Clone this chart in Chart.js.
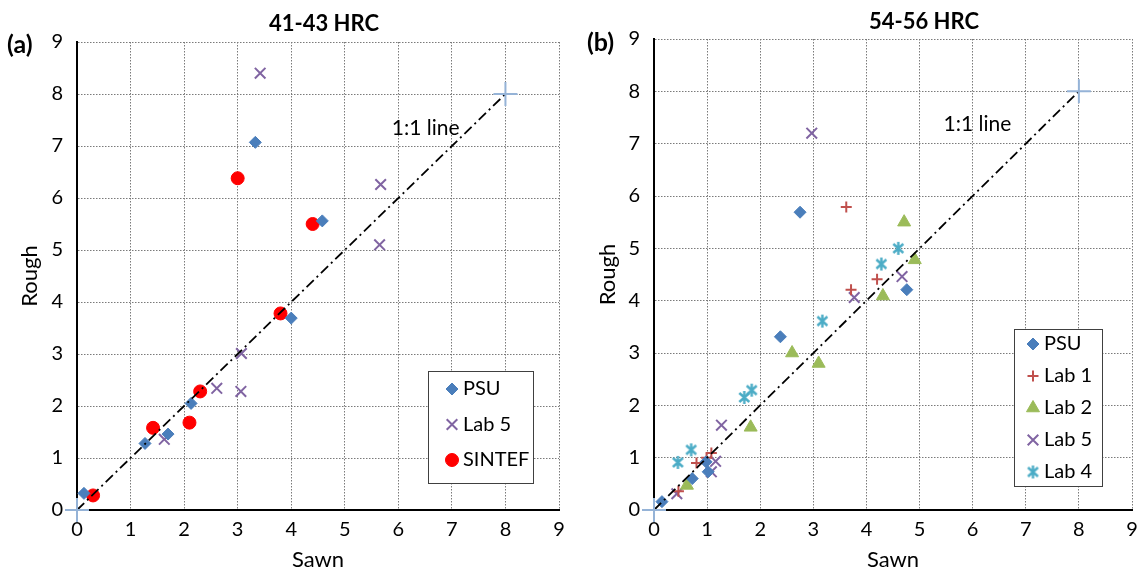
<!DOCTYPE html>
<html>
<head>
<meta charset="utf-8">
<script src="https://cdn.jsdelivr.net/npm/chart.js@4.4.1/dist/chart.umd.min.js"></script>
<style>
  html, body { margin: 0; padding: 0; background: #fff; }
  #wrap { position: relative; width: 1146px; height: 574px; }
  .panel { position: absolute; top: 0; width: 573px; height: 574px; }
</style>
</head>
<body>
<div id="wrap">
  <div class="panel" style="left:0"><canvas id="chartA" width="573" height="574"></canvas></div>
  <div class="panel" style="left:573px"><canvas id="chartB" width="573" height="574"></canvas></div>
</div>
<script>
// --- Data (Sawn = x, Rough = y) ---
const axisTicks = [0, 1, 2, 3, 4, 5, 6, 7, 8, 9];
const lineEnds = [0, 8];

// (a) 41-43 HRC
const aPsuSawn = [0.13, 1.27, 1.70, 2.13, 3.33, 4.00, 4.58];
const aPsuRough = [0.32, 1.28, 1.46, 2.05, 7.07, 3.69, 5.56];
const aLab5Sawn = [1.63, 2.61, 3.06, 3.07, 3.42, 5.65, 5.67];
const aLab5Rough = [1.36, 2.34, 2.28, 3.01, 8.40, 5.10, 6.26];
const aSintefSawn = [0.30, 1.42, 2.10, 2.30, 3.00, 3.80, 4.40];
const aSintefRough = [0.28, 1.58, 1.68, 2.28, 6.38, 3.78, 5.50];

// (b) 54-56 HRC
const bPsuSawn = [0.15, 0.72, 0.98, 1.02, 2.38, 2.75, 4.76];
const bPsuRough = [0.16, 0.60, 0.92, 0.73, 3.31, 5.69, 4.21];
const bLab1Sawn = [0.46, 0.80, 0.99, 1.08, 3.62, 3.71, 4.20];
const bLab1Rough = [0.36, 0.90, 1.00, 1.09, 5.79, 4.21, 4.41];
const bLab2Sawn = [0.62, 1.82, 2.60, 3.10, 4.31, 4.71, 4.91];
const bLab2Rough = [0.47, 1.58, 3.00, 2.80, 4.09, 5.50, 4.78];
const bLab5Sawn = [0.43, 1.08, 1.16, 1.27, 2.97, 3.77, 4.67];
const bLab5Rough = [0.31, 0.73, 0.93, 1.62, 7.20, 4.06, 4.46];
const bLab4Sawn = [0.45, 0.70, 1.70, 1.84, 3.17, 4.28, 4.60];
const bLab4Rough = [0.91, 1.15, 2.15, 2.29, 3.61, 4.70, 5.00];

// --- Styles ---
const FONT = 'Lato, "Open Sans", sans-serif';
const COLORS = {
    psu: '#4a7ebb', lab1: '#c0504d', lab2: '#9bbb59', lab5: '#8064a2',
    lab4: '#4bacc6', sintef: '#ff0000', ends: '#95b3d7'
};
Chart.defaults.font.family = FONT;
Chart.defaults.color = '#000';

function pts(xs, ys) {
    return xs.map((x, i) => ({ x: x, y: ys[i] }));
}

// Excel-style asterisk marker (x with a vertical bar)
function makeAsterisk(color) {
    const c = document.createElement('canvas');
    c.width = 15; c.height = 15;
    const g = c.getContext('2d');
    g.strokeStyle = color;
    g.lineWidth = 2.4;
    g.beginPath();
    g.moveTo(7.5, 1); g.lineTo(7.5, 14);
    g.moveTo(2.5, 3); g.lineTo(12.5, 12);
    g.moveTo(12.5, 3); g.lineTo(2.5, 12);
    g.stroke();
    return c;
}

function markerSet(label, xs, ys, style, color, radius, bw) {
    const filled = style === 'rectRot' || style === 'circle' || style === 'triangle';
    return {
        label: label,
        data: pts(xs, ys),
        pointStyle: style,
        pointRadius: radius,
        pointHoverRadius: radius,
        pointBackgroundColor: filled ? color : 'rgba(0,0,0,0)',
        pointBorderColor: color,
        pointBorderWidth: filled ? 1 : bw,
        order: 1
    };
}

function oneToOne() {
    return {
        type: 'line',
        label: '1:1 line',
        data: pts(lineEnds, lineEnds),
        borderColor: '#000',
        borderWidth: 1.8,
        borderDash: [10, 4, 2, 4],
        pointStyle: 'cross',
        pointRadius: 12,
        pointHoverRadius: 12,
        pointBorderColor: COLORS.ends,
        pointBackgroundColor: 'rgba(0,0,0,0)',
        pointBorderWidth: 2,
        clip: false,
        order: 0,
        noLegend: true
    };
}

// --- Plugins: panel texts and boxed legend inside the plot ---
const panelText = {
    id: 'panelText',
    afterDraw(chart, args, o) {
        const { ctx, scales } = chart;
        ctx.save();
        ctx.fillStyle = '#000';
        ctx.textBaseline = 'middle';
        ctx.font = 'bold 22px ' + FONT;
        ctx.textAlign = 'center';
        ctx.fillText(o.title, o.titleX, o.titleY);
        ctx.font = 'bold 25px ' + FONT;
        ctx.textAlign = 'left';
        ctx.fillText(o.letter, o.letterX, o.letterY);
        ctx.font = '21px ' + FONT;
        ctx.textAlign = 'center';
        ctx.fillText('1:1 line', scales.x.getPixelForValue(o.noteAt[0]), scales.y.getPixelForValue(o.noteAt[1]));
        ctx.restore();
    }
};

const boxLegend = {
    id: 'boxLegend',
    afterDraw(chart, args, o) {
        const ctx = chart.ctx;
        const items = chart.data.datasets.filter(d => !d.noLegend);
        ctx.save();
        ctx.fillStyle = '#fff';
        ctx.fillRect(o.left, o.top, o.width, o.height);
        ctx.strokeStyle = '#404040';
        ctx.lineWidth = 1;
        ctx.strokeRect(o.left + 0.5, o.top + 0.5, o.width, o.height);
        items.forEach((d, i) => {
            const y = o.top + o.first + i * o.step;
            ctx.fillStyle = d.pointBackgroundColor;
            ctx.strokeStyle = d.pointBorderColor;
            ctx.lineWidth = d.pointBorderWidth;
            Chart.helpers.drawPoint(ctx, {
                pointStyle: d.pointStyle, radius: d.pointRadius,
                borderWidth: d.pointBorderWidth, rotation: 0
            }, o.left + o.markX, y);
            ctx.fillStyle = '#000';
            ctx.font = '20px ' + FONT;
            ctx.textAlign = 'left';
            ctx.textBaseline = 'middle';
            ctx.fillText(d.label, o.left + o.textX, y);
        });
        ctx.restore();
    }
};

function makeChart(id, datasets, panel) {
    return new Chart(document.getElementById(id), {
        type: 'scatter',
        data: { datasets: datasets },
        options: {
            responsive: false,
            animation: false,
            devicePixelRatio: 1,
            layout: { padding: { left: 0, right: panel.padRight, top: panel.padTop, bottom: 0 } },
            plugins: {
                legend: { display: false },
                tooltip: { enabled: false },
                panelText: panel.text,
                boxLegend: panel.legend
            },
            scales: {
                x: {
                    type: 'linear', min: 0, max: 9,
                    afterBuildTicks: s => { s.ticks = axisTicks.map(v => ({ value: v })); },
                    afterFit: s => { s.height = 64; },
                    grid: { color: '#7a7a7a', lineWidth: 1, drawTicks: false },
                    border: { display: true, color: '#000', width: 2, dash: [1.5, 1.5] },
                    ticks: { padding: 8, color: '#000', font: { size: 20 } },
                    title: { display: true, text: 'Sawn', color: '#000', font: { size: 22 }, padding: { top: 0, bottom: 1 } }
                },
                y: {
                    type: 'linear', min: 0, max: 9,
                    afterBuildTicks: s => { s.ticks = axisTicks.map(v => ({ value: v })); },
                    afterFit: s => { s.width = panel.yWidth; },
                    grid: { color: '#7a7a7a', lineWidth: 1, drawTicks: false },
                    border: { display: true, color: '#000', width: 2, dash: [1.5, 1.5] },
                    ticks: { padding: 14, color: '#000', font: { size: 20 } },
                    title: { display: true, text: 'Rough', color: '#000', font: { size: 22 }, padding: { top: panel.yTitlePad, bottom: 0 } }
                }
            }
        },
        plugins: [panelText, boxLegend]
    });
}

makeChart('chartA', [
    oneToOne(),
    markerSet('PSU', aPsuSawn, aPsuRough, 'rectRot', COLORS.psu, 6, 1),
    markerSet('Lab 5', aLab5Sawn, aLab5Rough, 'crossRot', COLORS.lab5, 7.5, 2),
    markerSet('SINTEF', aSintefSawn, aSintefRough, 'circle', COLORS.sintef, 6.5, 1)
], {
    padRight: 11, padTop: 42, yWidth: 77, yTitlePad: 17,
    text: { title: '41-43 HRC', titleX: 324, titleY: 24, letter: '(a)', letterX: 7, letterY: 45, noteAt: [6.51, 7.35] },
    legend: { left: 428, top: 371, width: 105, height: 112, first: 18, step: 35.5, markX: 24, textX: 35 }
});

makeChart('chartB', [
    oneToOne(),
    markerSet('PSU', bPsuSawn, bPsuRough, 'rectRot', COLORS.psu, 6, 1),
    markerSet('Lab 1', bLab1Sawn, bLab1Rough, 'cross', COLORS.lab1, 5.5, 2),
    markerSet('Lab 2', bLab2Sawn, bLab2Rough, 'triangle', COLORS.lab2, 7.5, 1),
    markerSet('Lab 5', bLab5Sawn, bLab5Rough, 'crossRot', COLORS.lab5, 7.5, 2),
    markerSet('Lab 4', bLab4Sawn, bLab4Rough, makeAsterisk(COLORS.lab4), COLORS.lab4, 7, 2)
], {
    padRight: 10, padTop: 39, yWidth: 81, yTitlePad: 22,
    text: { title: '54-56 HRC', titleX: 351, titleY: 22, letter: '(b)', letterX: 14, letterY: 43, noteAt: [6.09, 7.38] },
    legend: { left: 441, top: 329, width: 88, height: 157, first: 15, step: 32, markX: 19, textX: 30 }
});
</script>
</body>
</html>
